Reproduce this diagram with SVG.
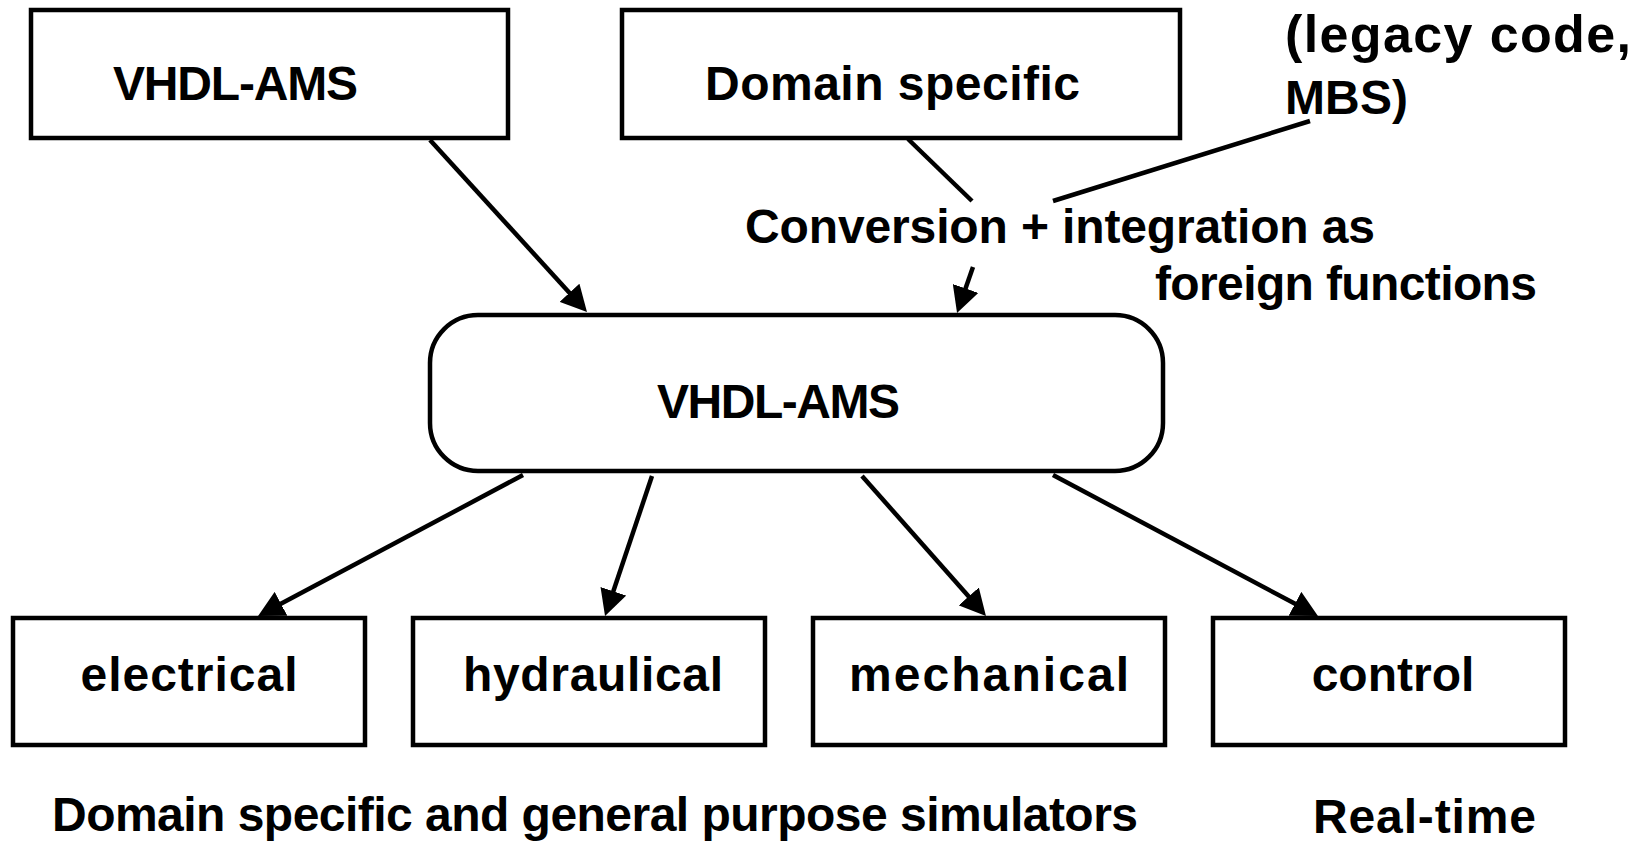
<svg xmlns="http://www.w3.org/2000/svg" width="1641" height="846" viewBox="0 0 1641 846">
<style>
.box{fill:#fff;stroke:#000;stroke-width:4.5}
.ln{fill:none;stroke:#000;stroke-width:4.5}
.t{font-family:"Liberation Sans",Arial,sans-serif;font-weight:bold;font-size:48px;fill:#000}
.m{text-anchor:middle}
</style>
<defs>
<marker id="ah" markerUnits="userSpaceOnUse" markerWidth="26" markerHeight="27" refX="6" refY="13.5" orient="auto" viewBox="0 0 26 27">
<path d="M0,0 L26,13.5 L0,27 z" fill="#000"/>
</marker>
</defs>
<rect width="1641" height="846" fill="#fff"/>
<g id="connectors">
<line class="ln" x1="430" y1="140" x2="573.5" y2="297.2" marker-end="url(#ah)"/>
<line class="ln" x1="908" y1="139" x2="972" y2="201"/>
<line class="ln" x1="1053" y1="201" x2="1310" y2="121"/>
<line class="ln" x1="973" y1="267" x2="963.6" y2="294.1" marker-end="url(#ah)"/>
<line class="ln" x1="523" y1="475" x2="275.7" y2="606.6" marker-end="url(#ah)"/>
<line class="ln" x1="652" y1="476" x2="611.4" y2="597" marker-end="url(#ah)"/>
<line class="ln" x1="862" y1="476" x2="972.7" y2="601" marker-end="url(#ah)"/>
<line class="ln" x1="1053" y1="475" x2="1300.3" y2="606.6" marker-end="url(#ah)"/>
</g>
<g id="vhdl-ams-source">
<rect class="box" x="31" y="10" width="477" height="128"/>
<text class="t" x="113" y="100" textLength="245">VHDL-AMS</text>
</g>
<g id="domain-specific-source">
<rect class="box" x="622" y="10" width="558" height="128"/>
<text class="t" x="705" y="100" textLength="375">Domain specific</text>
</g>
<g id="legacy-note">
<text class="t" x="1285" y="52" style="font-size:52px" textLength="346">(legacy code,</text>
<text class="t" x="1285" y="114" textLength="123">MBS)</text>
</g>
<g id="conversion-label">
<text class="t" x="745" y="243" textLength="630">Conversion + integration as</text>
<text class="t" x="1155" y="300" textLength="382">foreign functions</text>
</g>
<g id="vhdl-ams-core">
<rect class="box" x="430" y="315" width="733" height="156" rx="48" ry="48"/>
<text class="t" x="657" y="418" textLength="243">VHDL-AMS</text>
</g>
<g id="electrical">
<rect class="box" x="13" y="618" width="352" height="127"/>
<text class="t m" x="189" y="691" textLength="217">electrical</text>
</g>
<g id="hydraulical">
<rect class="box" x="413" y="618" width="352" height="127"/>
<text class="t m" x="593" y="691" textLength="260">hydraulical</text>
</g>
<g id="mechanical">
<rect class="box" x="813" y="618" width="352" height="127"/>
<text class="t m" x="989" y="691" textLength="280">mechanical</text>
</g>
<g id="control">
<rect class="box" x="1213" y="618" width="352" height="127"/>
<text class="t m" x="1393" y="691">control</text>
</g>
<g id="footer-labels">
<text class="t" x="52" y="831" textLength="1086">Domain specific and general purpose simulators</text>
<text class="t" x="1313" y="833" textLength="223">Real-time</text>
</g>
</svg>
